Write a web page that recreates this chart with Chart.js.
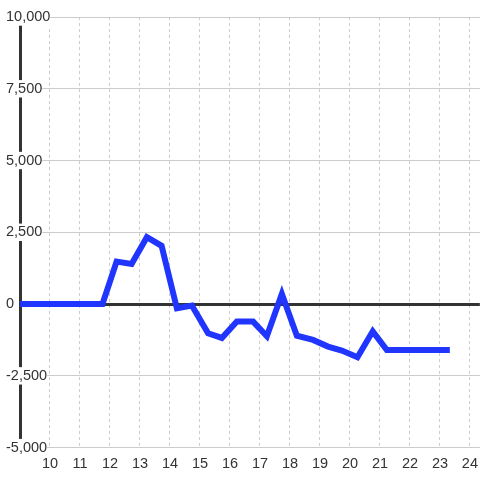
<!DOCTYPE html>
<html>
<head>
<meta charset="utf-8">
<script src="https://cdn.jsdelivr.net/npm/chart.js@4"></script>
<style>
    html, body { margin: 0; padding: 0; background: #fff; }
    #wrap { width: 480px; height: 480px; }
</style>
</head>
<body>
<div id="wrap"><canvas id="chart"></canvas></div>
<script>
// series
const xValues = [9, 11.75, 12.22, 12.72, 13.23, 13.72, 14.23, 14.73, 15.27, 15.73, 16.23, 16.77,
    17.23, 17.73, 18.23, 18.77, 19.27, 19.73, 20.25, 20.76, 21.23, 23.33];
const yValues = [0, 0, 1480, 1400, 2330, 2030, -150, -50, -1020, -1180, -610, -610,
    -1120, 350, -1100, -1250, -1480, -1620, -1850, -950, -1600, -1600];

const xMin = 9;
const xMax = 24.33;
const yMin = -5000;
const yMax = 10000;
const yLabelStep = 2500;

const points = xValues.map((x, i) => ({ x: x, y: yValues[i] }));

Chart.defaults.font.family = "'Liberation Sans', Arial, sans-serif";
Chart.defaults.font.size = 14.5;
Chart.defaults.color = "#333";

const chart = new Chart(document.getElementById("chart"), {
    type: "line",
    data: {
        datasets: [
            {
                data: points,
                borderColor: "#2036ff",
                borderWidth: 6,
                pointRadius: 0,
                tension: 0,
                fill: false,
            },
        ],
    },
    options: {
        responsive: true,
        maintainAspectRatio: false,
        animation: false,
        layout: { padding: { left: 0, top: 17, right: 0, bottom: 5 } },
        plugins: {
            legend: { display: false },
            tooltip: { enabled: false },
        },
        scales: {
            x: {
                type: "linear",
                min: xMin,
                max: xMax,
                border: { display: false, dash: [3, 3] },
                grid: {
                    color: (ctx) => (ctx.tick && ctx.tick.value < 10 ? "rgba(0,0,0,0)" : "#ccc"),
                    tickColor: "rgba(0,0,0,0)",
                    tickLength: 6,
                },
                ticks: {
                    stepSize: 1,
                    includeBounds: false,
                    autoSkip: false,
                    maxRotation: 0,
                    padding: 2,
                    callback: (v) => (v >= 10 && Number.isInteger(v) ? v : null),
                },
            },
            y: {
                min: yMin,
                max: yMax,
                afterFit: (scale) => {
                    scale.width = 20;
                },
                border: { display: true, color: "#333", width: 3 },
                grid: {
                    drawTicks: false,
                    color: (ctx) => (ctx.tick && ctx.tick.value === 0 ? "#333" : "#ccc"),
                    lineWidth: (ctx) => (ctx.tick && ctx.tick.value === 0 ? 3 : 1),
                },
                ticks: {
                    stepSize: 1250,
                    mirror: true,
                    padding: -14,
                    showLabelBackdrop: true,
                    backdropColor: "#fff",
                    backdropPadding: 0,
                    callback: (v) => (v % yLabelStep === 0 ? v.toLocaleString("en-US") : null),
                },
            },
        },
    },
});
</script>
</body>
</html>
